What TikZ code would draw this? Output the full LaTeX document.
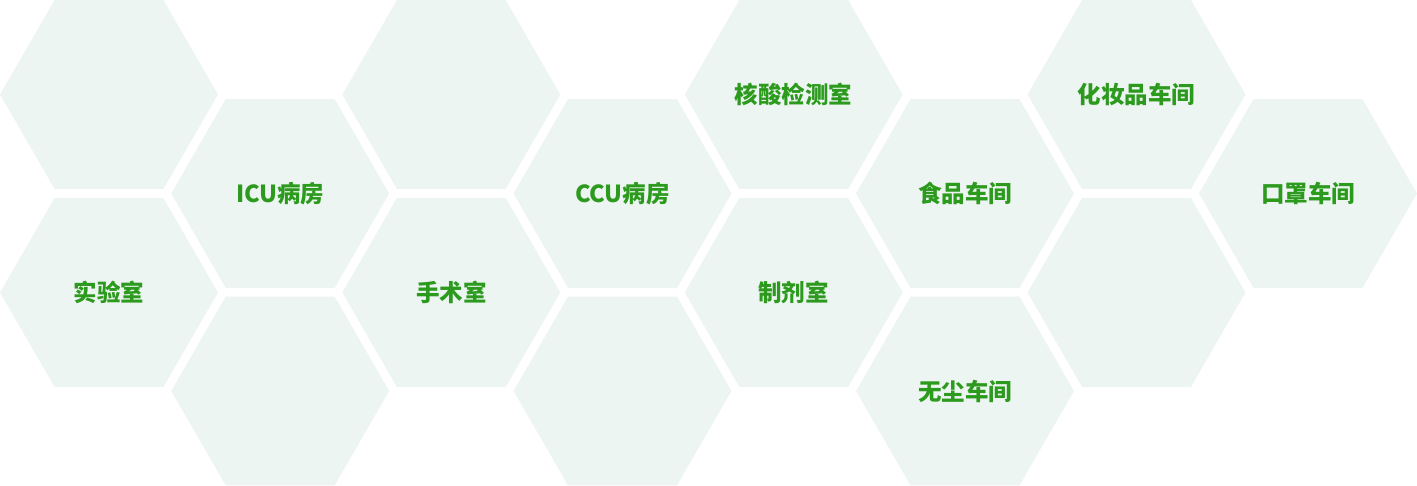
\documentclass[tikz,border=0pt]{standalone}
\usepackage{fontspec}
\usetikzlibrary{shapes.geometric}
\newfontfamily\cjk{Noto Sans CJK SC}
\definecolor{HexFill}{HTML}{EDF5F2}
\definecolor{HexText}{HTML}{2B9A1D}

\begin{document}
\begin{tikzpicture}[
      x=1pt,y=-1pt,
      cell/.style={regular polygon,regular polygon sides=6,minimum size=218pt,
        inner sep=0pt,outer sep=0pt,fill=HexFill,text=HexText,
        font=\cjk\bfseries\fontsize{23.5}{26}\selectfont}
    ]
      \useasboundingbox (0,0) rectangle (1417,485);
      % column 1
      \node[cell] (blankA) at (109,94.5) {};
      \node[cell] (lab) at (109,292.5) {实验室};
      % column 2
      \node[cell] (icu) at (280.2,193.5) {ICU病房};
      \node[cell] (blankB) at (280.2,391) {};
      % column 3
      \node[cell] (blankC) at (451.3,94.5) {};
      \node[cell] (surgery) at (451.3,292.5) {手术室};
      % column 4
      \node[cell] (ccu) at (622.5,193.5) {CCU病房};
      \node[cell] (blankD) at (622.5,391) {};
      % column 5
      \node[cell] (nucleic) at (793.7,94.5) {核酸检测室};
      \node[cell] (prep) at (793.7,292.5) {制剂室};
      % column 6
      \node[cell] (food) at (965,193.5) {食品车间};
      \node[cell] (dustfree) at (965,391) {无尘车间};
      % column 7
      \node[cell] (cosmetic) at (1136.5,94.5) {化妆品车间};
      \node[cell] (blankE) at (1136.5,292.5) {};
      % column 8
      \node[cell] (mask) at (1308,193.5) {口罩车间};
    \end{tikzpicture}
\end{document}
